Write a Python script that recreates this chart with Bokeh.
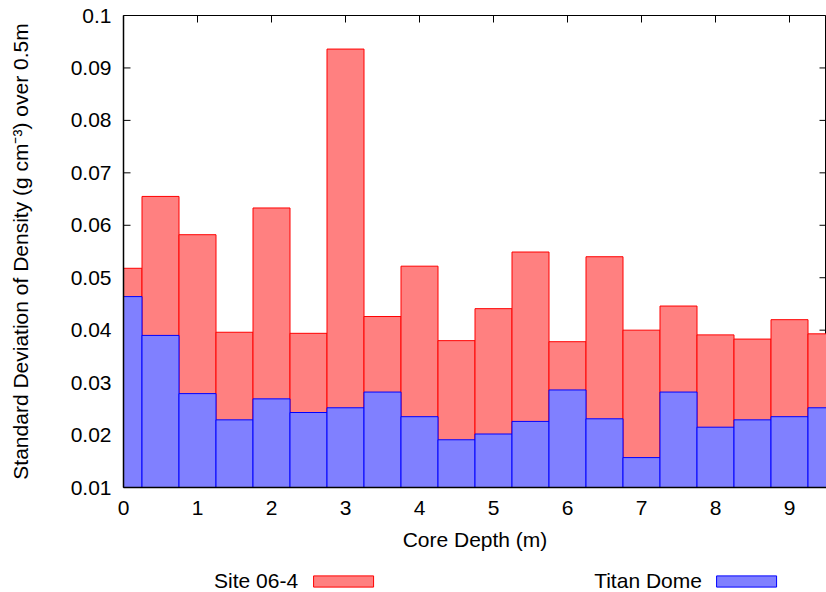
import math
from bokeh.plotting import figure
from bokeh.layouts import column
from bokeh.models import Range1d, FixedTicker, Legend, LegendItem, ColumnDataSource
from bokeh.embed import file_html
from bokeh.resources import INLINE

# ---- data ----
depth = [0.0, 0.5, 1.0, 1.5, 2.0, 2.5, 3.0, 3.5, 4.0, 4.5,
         5.0, 5.5, 6.0, 6.5, 7.0, 7.5, 8.0, 8.5, 9.0, 9.5]
site_06_4 = [0.0518, 0.0655, 0.0582, 0.0396, 0.0633, 0.0394, 0.0936, 0.0426, 0.0522, 0.0380,
             0.0441, 0.0549, 0.0378, 0.0540, 0.0400, 0.0446, 0.0391, 0.0383, 0.0420, 0.0393]
titan_dome = [0.0464, 0.0390, 0.0279, 0.0229, 0.0269, 0.0243, 0.0252, 0.0282, 0.0235, 0.0191,
              0.0202, 0.0226, 0.0286, 0.0231, 0.0157, 0.0282, 0.0215, 0.0229, 0.0235, 0.0252]
bar_width = 0.5
x_min, x_max = 0.0, 9.5
y_min, y_max = 0.01, 0.1
y_ticks = [0.01, 0.02, 0.03, 0.04, 0.05, 0.06, 0.07, 0.08, 0.09, 0.1]
y_tick_labels = ["0.01", "0.02", "0.03", "0.04", "0.05", "0.06", "0.07", "0.08", "0.09", "0.1"]
x_ticks = [0, 1, 2, 3, 4, 5, 6, 7, 8, 9]
x_tick_labels = ["0", "1", "2", "3", "4", "5", "6", "7", "8", "9"]
series_names = ["Site 06-4", "Titan Dome"]

FONT = "Liberation Sans"
FS = "21px"
RED_FILL, RED_LINE = "#FF8080", "#FF0000"
BLUE_FILL, BLUE_LINE = "#8080FF", "#0000FF"

p = figure(width=826, height=560, output_backend="svg", toolbar_location=None,
           x_range=Range1d(x_min, x_max), y_range=Range1d(y_min, y_max),
           min_border_left=123, min_border_right=0, min_border_top=15, min_border_bottom=73)
p.outline_line_color = "black"
p.outline_line_width = 1
p.xgrid.visible = False
p.ygrid.visible = False
p.background_fill_color = "white"
p.border_fill_color = "white"

# inward tick marks on all four borders, drawn behind the bars
nx, ny = len(x_ticks), len(y_ticks)
p.ray(x=x_ticks, y=[y_max] * nx, length=7, length_units="screen",
      angle=-math.pi / 2, line_color="black", line_width=1)
p.ray(x=x_ticks, y=[y_min] * nx, length=7, length_units="screen",
      angle=math.pi / 2, line_color="black", line_width=1)
p.ray(x=[x_max] * ny, y=y_ticks, length=7, length_units="screen",
      angle=math.pi, line_color="black", line_width=1)
p.ray(x=[x_min] * ny, y=y_ticks, length=7, length_units="screen",
      angle=0, line_color="black", line_width=1)

src = ColumnDataSource(dict(x=depth, site=site_06_4, titan=titan_dome))
p.vbar(x="x", width=bar_width, bottom=y_min, top="site", source=src,
       fill_color=RED_FILL, line_color=RED_LINE, line_width=1)
p.vbar(x="x", width=bar_width, bottom=y_min, top="titan", source=src,
       fill_color=BLUE_FILL, line_color=BLUE_LINE, line_width=1)

def style(ax, ticks, labels):
    ax.ticker = FixedTicker(ticks=ticks)
    ax.major_label_overrides = {t: l for t, l in zip(ticks, labels)}
    ax.major_tick_in = 0
    ax.major_tick_out = 0
    ax.minor_tick_line_color = None
    ax.major_tick_line_color = None
    ax.axis_line_color = "black"
    ax.axis_line_width = 1.5
    ax.major_label_text_font = FONT
    ax.major_label_text_font_size = FS
    ax.major_label_text_color = "black"
    ax.axis_label_text_font = FONT
    ax.axis_label_text_font_size = FS
    ax.axis_label_text_font_style = "normal"
    ax.axis_label_text_color = "black"

xa = p.xaxis[0]
style(xa, x_ticks, x_tick_labels)
xa.major_label_standoff = 13
xa.axis_label = "Core Depth (m)"
xa.axis_label_standoff = 10

ya = p.yaxis[0]
style(ya, y_ticks, y_tick_labels)
ya.major_label_standoff = 12
ya.axis_label = "Standard Deviation of Density (g cm\u207b\u00b3) over 0.5m"
ya.axis_label_standoff = 36

# ---- legend strip below the chart: text, then its sample box ----
# (the strip's y-range lies above all values, so its copies of the bars stay out of view)
lg = figure(width=826, height=32, output_backend="svg", toolbar_location=None,
            x_range=Range1d(x_min, x_max), y_range=Range1d(1, 2),
            x_axis_location=None, y_axis_location=None,
            min_border_left=123, min_border_right=0, min_border_top=0, min_border_bottom=0)
lg.outline_line_color = None
lg.xgrid.visible = False
lg.ygrid.visible = False
lg_src = ColumnDataSource(dict(x=depth, site=site_06_4, titan=titan_dome))
lg_site = lg.vbar(x="x", width=bar_width, bottom=y_min, top="site", source=lg_src,
                  fill_color=RED_FILL, line_color=RED_LINE)
lg_titan = lg.vbar(x="x", width=bar_width, bottom=y_min, top="titan", source=lg_src,
                   fill_color=BLUE_FILL, line_color=BLUE_LINE)
lg_blank = lg.vbar(x=[], top=[], width=bar_width, fill_alpha=0, line_alpha=0)

legend = Legend(items=[LegendItem(label=series_names[0], renderers=[lg_blank]),
                       LegendItem(label=" ", renderers=[lg_site]),
                       LegendItem(label=series_names[1], renderers=[lg_blank]),
                       LegendItem(label=" ", renderers=[lg_titan])],
                orientation="horizontal", location="top_center",
                glyph_width=75, glyph_height=14, label_standoff=53,
                label_width=26, label_height=14, spacing=7, padding=0, margin=9,
                label_text_baseline="middle",
                label_text_font=FONT, label_text_font_size=FS, label_text_color="black",
                border_line_color=None, background_fill_color=None,
                inactive_fill_color=None)
lg.add_layout(legend, "center")

open("out.html", "w").write(file_html(column(p, lg, spacing=0), INLINE))
